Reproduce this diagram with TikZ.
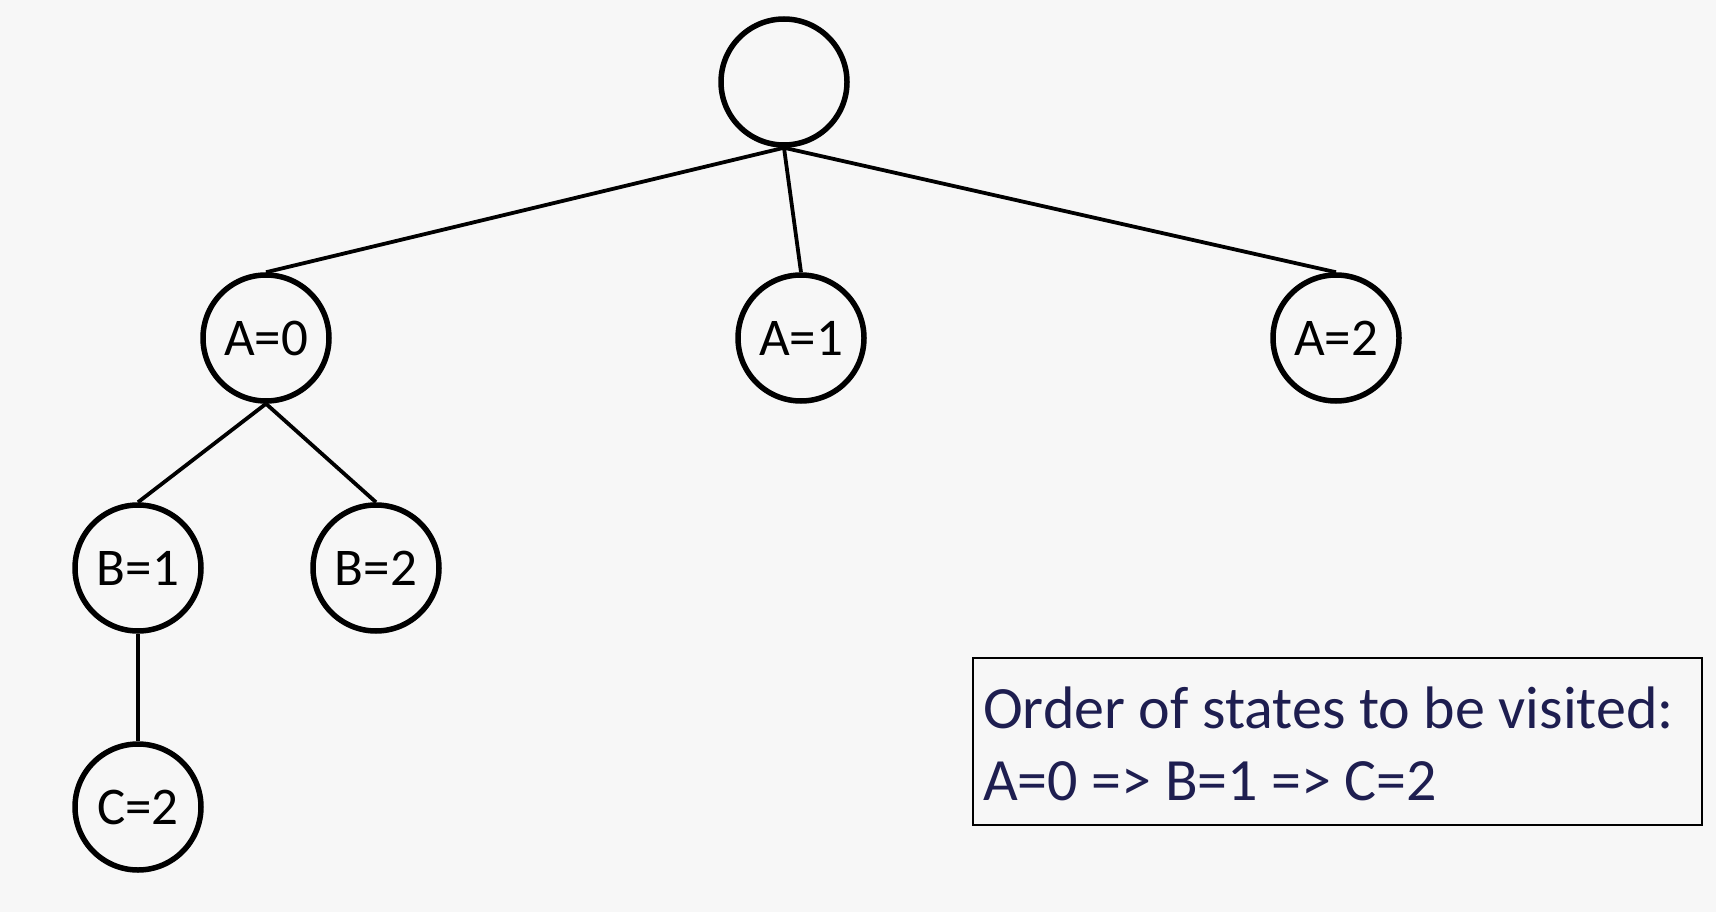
\documentclass[tikz,border=0pt]{standalone}
\usepackage{fontspec}
\setmainfont{Carlito}
\definecolor{bg}{RGB}{247,247,247}
\definecolor{navy}{RGB}{30,30,80}
\begin{document}
\begin{tikzpicture}[x=1pt,y=-1pt,
  state/.style={circle,draw=black,line width=5.5pt,minimum size=126pt,inner sep=0pt,
    font=\fontsize{53}{60}\selectfont},
  edge/.style={line width=3.8pt,black},
  info/.style={text=navy,font=\fontsize{60}{72}\selectfont,inner sep=0pt,anchor=base west}]
\fill[bg] (0,0) rectangle (1716,912);
\useasboundingbox (0,0) rectangle (1716,912);
\node[state] (root) at (784,82) {};
\node[state] (a0) at (266,338) {A=0};
\node[state] (a1) at (801,338) {A=1};
\node[state] (a2) at (1336,338) {A=2};
\node[state] (b1) at (138,568) {B=1};
\node[state] (b2) at (376,568) {B=2};
\node[state] (c2) at (138,807) {C=2};
\draw[edge] (root.south) -- (a0.north);
\draw[edge] (root.south) -- (a1.north);
\draw[edge] (root.south) -- (a2.north);
\draw[edge] (a0.south) -- (b1.north);
\draw[edge] (a0.south) -- (b2.north);
\draw[edge] (b1.south) -- (c2.north);
\node[draw=black,line width=1.8pt,minimum width=729pt,minimum height=167pt,inner sep=0pt] (box) at (1337.5,741.5) {};
\node[info] (l1) at (983,728) {Order of states to be visited:};
\node[info] (l2) at (983,800) {A=0 => B=1 => C=2};
\end{tikzpicture}
\end{document}
